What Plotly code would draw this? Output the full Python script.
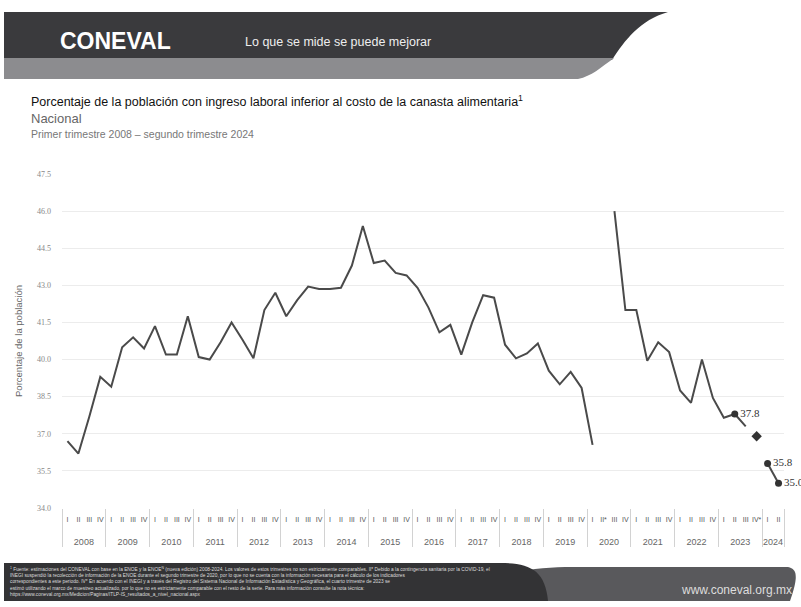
import plotly.graph_objects as go

# ---------------- data ----------------
years = [str(y) for y in range(2008, 2025)]
quarter_labels = {
    "default": ["I", "II", "III", "IV"],
    "2020": ["I", "II*", "III", "IV"],
    "2023": ["I", "II", "III", "IV*"],
    "2024": ["I", "II"],
}

# ENOE series: 2008 I - 2020 I
enoe_values = [36.7, 36.2, 37.7, 39.3,
               38.9, 40.5, 40.9, 40.45,
               41.35, 40.2, 40.2, 41.75,
               40.1, 40.0, 40.7, 41.5,
               40.8, 40.05, 42.0, 42.7,
               41.75, 42.4, 42.95, 42.85,
               42.85, 42.9, 43.8, 45.4,
               43.9, 44.0, 43.5, 43.4,
               42.9, 42.1, 41.1, 41.4,
               40.2, 41.5, 42.6, 42.5,
               40.6, 40.05, 40.25, 40.65,
               39.55, 39.0, 39.5, 38.85,
               36.55]
# ETOE / ENOE^N series: 2020 III - 2023 III
enoen_values = [46.0, 42.0,
                42.0, 39.95, 40.7, 40.3,
                38.75, 38.25, 40.0, 38.45,
                37.65, 37.8, 37.3]
q4_2023_value = 36.9
values_2024 = [35.8, 35.0]

# ---------------- categories (quarter index on the x axis) ----------------
q_text, year_of = [], []
for y in years:
    for q in quarter_labels.get(y, quarter_labels["default"]):
        q_text.append(q)
        year_of.append(y)
n = len(q_text)
idx = list(range(n))
year_centers, year_bounds = [], [-0.5]
for y in years:
    pos = [i for i in idx if year_of[i] == y]
    year_centers.append((pos[0] + pos[-1]) / 2)
    year_bounds.append(pos[-1] + 0.5)

i_2020_3 = year_of.index("2020") + 2
i_2023_2 = year_of.index("2023") + 1
i_2023_4 = year_of.index("2023") + 3
i_2024_1 = year_of.index("2024")

LINE = "#4a4a4a"
LABFONT = dict(family="Liberation Serif, DejaVu Serif", size=11, color="#333333")

fig = go.Figure()
fig.add_trace(go.Scatter(x=idx[:len(enoe_values)], y=enoe_values, mode="lines",
                         line=dict(color=LINE, width=2),
                         hoverinfo="skip", showlegend=False))
x_enoen = idx[i_2020_3:i_2020_3 + len(enoen_values)]
fig.add_trace(go.Scatter(x=x_enoen, y=enoen_values, mode="lines",
                         line=dict(color=LINE, width=2),
                         hoverinfo="skip", showlegend=False))
v_23_2 = enoen_values[i_2023_2 - i_2020_3]
fig.add_trace(go.Scatter(x=[i_2023_2], y=[v_23_2], mode="markers+text",
                         marker=dict(color="#333333", size=7),
                         text=[f"{v_23_2:.1f}"], textposition="middle right",
                         textfont=LABFONT, cliponaxis=False,
                         hoverinfo="skip", showlegend=False))
fig.add_trace(go.Scatter(x=[i_2023_4], y=[q4_2023_value], mode="markers",
                         marker=dict(color="#333333", size=8, symbol="diamond"),
                         hoverinfo="skip", showlegend=False))
fig.add_trace(go.Scatter(x=idx[i_2024_1:i_2024_1 + 2], y=values_2024, mode="lines+markers+text",
                         line=dict(color=LINE, width=2),
                         marker=dict(color="#333333", size=7),
                         text=[f"{v:.1f}" for v in values_2024], textposition="middle right",
                         textfont=LABFONT, cliponaxis=False,
                         hoverinfo="skip", showlegend=False))
# invisible traces to activate the helper axes (year labels, year dividers)
fig.add_trace(go.Scatter(x=[year_centers[0]], y=[None], xaxis="x2", showlegend=False, hoverinfo="skip"))
fig.add_trace(go.Scatter(x=[year_bounds[0]], y=[None], xaxis="x3", showlegend=False, hoverinfo="skip"))

# ---------------- layout ----------------
W, H = 801, 607
L, R, T, B = 62, 17, 174, 99
PW, PH = W - L - R, H - T - B

def px(xp):
    return (xp - L) / PW

def py(yp):
    return (H - B - yp) / PH

shapes = []
shapes.append(dict(type="path", xref="paper", yref="paper",
                   path=f"M {px(4)},{py(12)} L {px(668)},{py(12)} "
                        f"C {px(640)},{py(20)} {px(625)},{py(40)} {px(612)},{py(60)} "
                        f"L {px(4)},{py(60)} Z",
                   fillcolor="#3a3a3d", line=dict(width=0), layer="below"))
shapes.append(dict(type="path", xref="paper", yref="paper",
                   path=f"M {px(4)},{py(58)} L {px(614)},{py(58)} "
                        f"C {px(600)},{py(68)} {px(592)},{py(76)} {px(578)},{py(79)} "
                        f"L {px(4)},{py(79)} Z",
                   fillcolor="#8c8c8f", line=dict(width=0), layer="below"))
shapes.append(dict(type="path", xref="paper", yref="paper",
                   path=f"M {px(520)},{py(601)} L {px(520)},{py(572)} "
                        f"C {px(540)},{py(567)} {px(560)},{py(567)} {px(580)},{py(567)} "
                        f"L {px(788)},{py(567)} C {px(798)},{py(569)} {px(798)},{py(578)} {px(790)},{py(601)} Z",
                   fillcolor="#59595c", line=dict(width=0), layer="below"))
shapes.append(dict(type="path", xref="paper", yref="paper",
                   path=f"M {px(4)},{py(563)} L {px(500)},{py(563)} "
                        f"C {px(530)},{py(563)} {px(545)},{py(570)} {px(548)},{py(601)} "
                        f"L {px(4)},{py(601)} Z",
                   fillcolor="#333335", line=dict(width=0), layer="below"))

SANS = "Liberation Sans, Arial, sans-serif"
annotations = [
    dict(text="<b>CONEVAL</b>", x=px(58), y=py(41), xanchor="left", yanchor="middle",
         font=dict(family=SANS, size=23, color="white")),
    dict(text="Lo que se mide se puede mejorar", x=px(243), y=py(42), xanchor="left", yanchor="middle",
         font=dict(family=SANS, size=12.5, color="#eeeeee")),
    dict(text="Porcentaje de la población con ingreso laboral inferior al costo de la canasta alimentaria<sup>1</sup>",
         x=px(29), y=py(101), xanchor="left", yanchor="middle",
         font=dict(family=SANS, size=12.5, color="#111111")),
    dict(text="Nacional", x=px(29), y=py(118), xanchor="left", yanchor="middle",
         font=dict(family=SANS, size=13, color="#666666")),
    dict(text="Primer trimestre 2008 – segundo trimestre 2024", x=px(29), y=py(134), xanchor="left", yanchor="middle",
         font=dict(family=SANS, size=10.5, color="#777777")),
    dict(text="www.coneval.org.mx", x=px(736), y=py(590), xanchor="center", yanchor="middle",
         font=dict(family=SANS, size=12, color="#dddddd")),
    dict(text=("<sup>1</sup> Fuente: estimaciones del CONEVAL con base en la ENOE y la ENOE<sup>N</sup> (nueva edición) 2008-2024. Los valores de estos trimestres no son estrictamente comparables. II* Debido a la contingencia sanitaria por la COVID-19, el<br>"
               "INEGI suspendió la recolección de información de la ENOE durante el segundo trimestre de 2020, por lo que no se cuenta con la información necesaria para el cálculo de los indicadores<br>"
               "correspondientes a este periodo. IV* En acuerdo con el INEGI y a través del Registro del Sistema Nacional de Información Estadística y Geográfica, el cuarto trimestre de 2023 se<br>"
               "estimó utilizando el marco de muestreo actualizado, por lo que no es estrictamente comparable con el resto de la serie. Para más información consulte la nota técnica:<br>"
               "https://www.coneval.org.mx/Medicion/Paginas/ITLP-IS_resultados_a_nivel_nacional.aspx"),
         x=px(8), y=py(581), xanchor="left", yanchor="middle", align="left",
         font=dict(family=SANS, size=4.8, color="#dddddd")),
]
for a in annotations:
    a.update(xref="paper", yref="paper", showarrow=False)

xr = [-0.5, n - 0.5]
fig.update_layout(
    width=W, height=H,
    margin=dict(l=L, r=R, t=T, b=B, autoexpand=False),
    paper_bgcolor="white", plot_bgcolor="white",
    shapes=shapes, annotations=annotations,
    font=dict(family=SANS, color="#777777"),
    xaxis=dict(range=xr, tickmode="array", tickvals=idx, ticktext=q_text,
               tickangle=0, showgrid=False, zeroline=False, showline=False, ticks="",
               ticklabelstandoff=6,
               tickfont=dict(family=SANS, size=7, color="#555555")),
    xaxis2=dict(range=xr, overlaying="x", side="bottom", anchor="y",
                tickmode="array", tickvals=year_centers, ticktext=years,
                tickangle=0, showgrid=False, zeroline=False, showline=False, ticks="",
                ticklabelstandoff=27,
                tickfont=dict(family=SANS, size=9, color="#666666")),
    xaxis3=dict(range=xr, overlaying="x", side="bottom", anchor="y",
                tickmode="array", tickvals=year_bounds, showticklabels=False,
                ticks="outside", ticklen=38, tickcolor="#d2d2d2", tickwidth=1,
                showgrid=False, zeroline=False, showline=False),
    yaxis=dict(range=[34, 47.5], tick0=34, dtick=1.5, tickformat=".1f",
               showgrid=True, gridcolor="#ececec", gridwidth=1, zeroline=False,
               showline=False, ticks="", ticklabelstandoff=10, automargin=False,
               tickfont=dict(family="Liberation Serif, DejaVu Serif", size=8, color="#888888"),
               title=dict(text="Porcentaje de la población", standoff=12,
                          font=dict(family=SANS, size=9.5, color="#666666"))),
)

fig.write_html("out.html", config={"displayModeBar": False},
               post_script="document.body.style.margin='0';")
